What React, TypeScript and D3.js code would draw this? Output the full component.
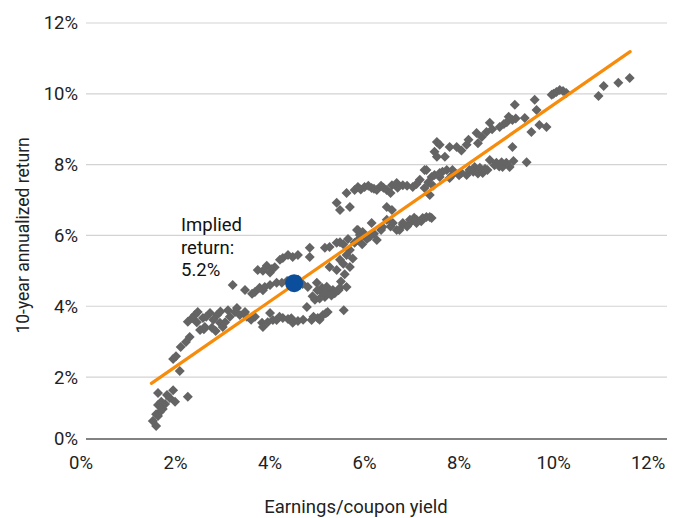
import React from "react";
import * as d3 from "d3";

// Scatter points: earnings/coupon yield (%) and 10-year annualized return (%)
const yieldX: number[] = [
  1.52, 1.59, 1.63, 1.67, 1.73, 1.63, 1.78, 1.88, 1.82, 1.95, 1.63, 1.99, 2.26, 2.09, 1.95, 2.01, 1.59, 1.70,
  2.11, 2.22, 2.30, 2.26, 2.41, 2.47, 2.52, 2.62, 2.77, 2.73, 2.88, 2.94, 3.00, 3.11, 3.26, 3.36, 3.47, 3.21, 3.47, 2.35, 2.58, 2.85, 3.05,
  2.45, 2.65, 2.80, 3.15, 3.30, 2.60, 2.95,
  3.51, 3.68, 3.83, 3.85, 4.00, 4.06, 4.14, 4.27, 4.38, 4.48, 4.59, 4.78, 4.88, 5.01, 5.12, 5.22, 5.56,
  3.60, 3.95, 4.20, 4.45, 4.70, 4.92, 5.05, 5.18,
  3.68, 3.78, 3.89, 4.00, 4.14, 4.25, 4.36, 4.69, 4.80, 4.45, 4.60, 3.62, 3.85,
  3.74, 3.93, 4.04, 4.21, 4.27, 4.48, 4.59, 4.84, 4.84, 4.10, 3.85, 4.00, 4.38,
  4.95, 5.16, 5.37, 5.62, 4.99, 5.10, 5.12, 5.22, 5.33, 5.48, 5.26, 5.41, 5.48, 5.69, 5.16, 5.26, 5.41, 5.48, 5.69, 5.79, 5.86, 5.90, 5.86, 5.58, 5.50,
  4.90, 5.05, 5.30, 5.45, 5.20, 5.00, 5.55, 5.62, 5.75, 5.55, 5.65, 5.95, 6.05,
  5.41, 5.48, 5.62, 5.69, 5.79, 5.86, 6.00, 6.15, 6.26, 6.47, 6.58, 6.68, 6.81, 7.02, 7.17, 7.27, 7.42, 7.59, 7.27, 7.38, 7.31, 7.48, 7.59, 7.74, 7.80, 7.86, 6.47, 6.58, 6.35, 5.92,
  6.08, 6.20, 6.40, 6.70, 6.90, 7.10, 7.35, 7.45, 6.55,
  5.84, 5.96, 6.11, 6.26, 6.38, 6.47, 6.60, 6.68, 6.81, 6.96, 7.10, 7.31, 7.42, 6.81, 6.96, 7.10, 7.23, 7.38, 6.74,
  6.00, 6.20, 6.35, 6.55, 6.90, 7.05, 7.20, 6.15,
  7.53, 7.59, 7.48, 7.53, 7.70, 7.80, 7.95, 8.05, 8.16, 8.22, 8.33, 8.44, 8.50, 8.65, 8.79, 8.90, 8.92, 9.07, 9.43, 8.16, 8.37, 8.48, 8.58, 8.65, 8.86, 9.01, 9.13, 9.13, 8.30, 8.55, 8.75, 8.05,
  7.65, 7.85, 8.00, 8.40, 8.60, 8.85, 9.00, 9.15, 8.20, 8.40, 8.70, 8.95, 9.20, 9.05,
  9.18, 9.39, 9.53, 9.60, 9.64, 9.70, 9.85, 9.96, 10.06, 10.13, 10.27, 10.00, 10.20,
  10.95, 11.06, 11.37, 11.61,
];
const returnY: number[] = [
  0.76, 0.62, 0.90, 1.01, 1.10, 1.21, 1.24, 1.41, 1.49, 1.63, 1.55, 1.30, 1.44, 2.17, 2.51, 2.59, 0.95, 1.30,
  2.85, 2.99, 3.13, 3.56, 3.75, 3.84, 3.33, 3.41, 3.39, 3.81, 3.75, 3.53, 3.41, 3.89, 3.84, 3.75, 3.84, 4.60, 4.46, 3.67, 3.67, 3.30, 3.55,
  3.55, 3.70, 3.62, 3.70, 3.95, 3.35, 3.85,
  3.70, 3.70, 3.53, 3.41, 3.81, 3.61, 3.61, 3.67, 3.64, 3.53, 3.58, 3.98, 3.61, 3.67, 3.75, 3.84, 3.89,
  3.62, 3.55, 3.70, 3.66, 3.62, 3.70, 3.62, 3.80,
  4.40, 4.52, 4.54, 4.60, 4.66, 4.66, 4.71, 4.63, 4.54, 4.70, 4.75, 4.35, 4.45,
  5.02, 5.14, 5.05, 5.31, 5.36, 5.39, 5.45, 5.65, 5.39, 5.10, 5.00, 4.95, 5.45,
  4.18, 4.26, 4.37, 4.54, 4.66, 4.52, 4.37, 4.40, 4.46, 4.52, 5.11, 5.02, 5.31, 5.11, 5.65, 5.67, 5.79, 5.81, 5.59, 5.79, 5.87, 6.01, 6.15, 4.90, 4.70,
  4.28, 4.22, 4.30, 4.45, 4.55, 4.45, 5.20, 5.45, 5.35, 5.75, 5.90, 5.75, 5.90,
  6.92, 6.72, 7.20, 6.80, 7.28, 7.37, 7.37, 7.34, 7.28, 7.28, 7.42, 7.48, 7.42, 7.37, 7.57, 7.85, 7.65, 7.65, 7.34, 7.14, 7.85, 7.71, 7.76, 7.85, 7.62, 7.85, 6.80, 6.72, 7.40, 7.30,
  7.40, 7.32, 7.35, 7.35, 7.40, 7.45, 7.50, 7.40, 7.20,
  6.15, 6.10, 5.96, 5.87, 6.24, 6.44, 6.35, 6.15, 6.30, 6.35, 6.44, 6.52, 6.49, 6.35, 6.44, 6.35, 6.49, 6.52, 6.15,
  6.00, 6.05, 6.15, 6.25, 6.25, 6.50, 6.40, 6.35,
  8.64, 8.56, 8.36, 8.22, 8.22, 8.50, 8.50, 7.76, 7.71, 7.85, 7.93, 7.91, 7.76, 8.13, 8.05, 8.07, 7.93, 7.93, 8.07, 8.56, 8.89, 8.78, 8.92, 9.18, 9.06, 9.20, 9.26, 8.50, 7.80, 7.88, 7.98, 8.40,
  7.80, 7.70, 7.70, 7.75, 7.85, 7.95, 8.05, 8.10, 8.70, 8.60, 9.00, 9.15, 9.30, 9.35,
  9.69, 9.32, 8.92, 9.83, 9.54, 9.12, 9.06, 9.97, 10.05, 10.11, 10.02, 10.00, 10.08,
  9.94, 10.22, 10.31, 10.45,
];

// Trend line end points
const trendX: number[] = [1.49, 11.62];
const trendY: number[] = [1.82, 11.19];

// Current point
const currentX: number[] = [4.51];
const currentY: number[] = [4.65];
const annotationLines: string[] = ["Implied", "return:", "5.2%"];

// Axes
const xTicks: number[] = [0, 2, 4, 6, 8, 10, 12];
const yTicks: number[] = [0.25, 2, 4, 6, 8, 10, 12];
const xDomain: number[] = [0, 12.4];
const yDomain: number[] = [0.25, 12];
const xTitle = "Earnings/coupon yield";
const yTitle = "10-year annualized return";

const W = 676;
const H = 518;
const FONT = "Roboto, 'Open Sans', sans-serif";

export default function App() {
  const x = d3.scaleLinear().domain(xDomain).range([81, 667]);
  const y = d3.scaleLinear().domain(yDomain).range([439, 23]);
  const plotLeft = 86;
  const plotRight = x(xDomain[1]);
  const fmt = (v: number) => d3.format(".0%")(Math.floor(v) / 100);
  const diamond = d3.symbol().type(d3.symbolSquare).size(50)();
  const line = d3
    .line<number>()
    .x((_, i) => x(trendX[i]))
    .y((_, i) => y(trendY[i]));

  return (
    <svg
      width={W}
      height={H}
      style={{ position: "absolute", left: 0, top: 0, background: "#fff" }}
      fontFamily={FONT}
    >
      {yTicks.slice(1).map((t) => (
        <line key={"g" + t} x1={plotLeft} x2={plotRight} y1={y(t)} y2={y(t)} stroke="#d3d3d3" strokeWidth={1.2} />
      ))}
      <line x1={plotLeft} x2={plotRight} y1={y(yDomain[0])} y2={y(yDomain[0])} stroke="#595959" strokeWidth={1.5} />
      {yTicks.map((t) => (
        <text key={"yl" + t} x={78} y={y(t)} dy="0.35em" textAnchor="end" fontSize={18.5} fill="#222">
          {fmt(t)}
        </text>
      ))}
      {xTicks.map((t) => (
        <text key={"xl" + t} x={x(t)} y={463} dy="0.35em" textAnchor="middle" fontSize={18.5} fill="#222">
          {fmt(t)}
        </text>
      ))}
      <text x={356} y={507} dy="0.35em" textAnchor="middle" fontSize={18.5} fill="#222">
        {xTitle}
      </text>
      <text
        transform={`translate(23, ${y(6)}) rotate(-90)`}
        dy="0.35em"
        textAnchor="middle"
        fontSize={17.5}
        fill="#222"
      >
        {yTitle}
      </text>
      <g>
        {yieldX.map((v, i) => (
          <path
            key={"p" + i}
            d={diamond}
            transform={`translate(${x(v)},${y(returnY[i])}) rotate(45)`}
            fill="#646464"
          />
        ))}
      </g>
      <path d={line(trendX) || ""} stroke="#f78c0c" strokeWidth={3.2} fill="none" strokeLinecap="round" />
      {currentX.map((v, i) => (
        <circle key={"c" + i} cx={x(v)} cy={y(currentY[i])} r={9} fill="#0b4f9c" />
      ))}
      {annotationLines.map((s, i) => (
        <text key={"a" + i} x={181} y={225 + i * 22.5} dy="0.35em" fontSize={18.5} fill="#111">
          {s}
        </text>
      ))}
    </svg>
  );
}
